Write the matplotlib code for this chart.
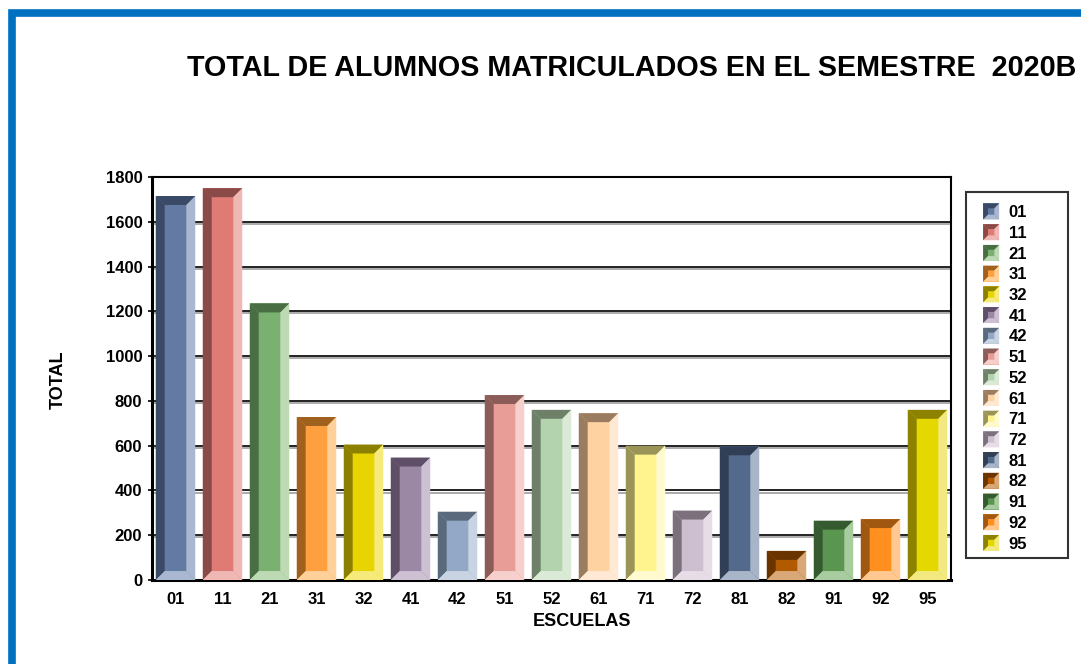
import matplotlib
matplotlib.use('Agg')
import matplotlib.pyplot as plt
import matplotlib.patheffects as pe
from matplotlib.patches import Polygon, Rectangle, Patch
from matplotlib.legend_handler import HandlerBase

plt.rcParams['font.family'] = ['Liberation Sans', 'DejaVu Sans']

# data
escuelas = ['01', '11', '21', '31', '32', '41', '42', '51', '52', '61',
            '71', '72', '81', '82', '91', '92', '95']
totales = [1715, 1750, 1235, 728, 605, 547, 305, 826, 760, 745,
           600, 310, 597, 130, 265, 272, 760]
yticks = [0, 200, 400, 600, 800, 1000, 1200, 1400, 1600, 1800]

# (front, dark bevel, light bevel) per school
front = ['#637AA2', '#E07A74', '#7AB070', '#FFA040', '#E8D400', '#9B88A4',
         '#93A8C6', '#E89E96', '#B3D3AE', '#FFD2A2', '#FFF48E', '#CEBFD0',
         '#536A8C', '#B25A00', '#5A9650', '#FF9020', '#E4D800']
dark = ['#3A4A66', '#8A4A48', '#4A6E44', '#A0601E', '#8C8000', '#5E4E68',
        '#5A6A7C', '#8C5C58', '#6E8068', '#9A7C60', '#9A9458', '#7C707C',
        '#303E56', '#6A3400', '#365A30', '#A05810', '#8C8200']
light = ['#A9B8D0', '#F0B8B5', '#BDDAB5', '#FFD09A', '#F5EA7A', '#CCC0D2',
         '#C8D4E2', '#F5D0CC', '#DAEAD6', '#FFE8D4', '#FFFAD0', '#E6DDE6',
         '#A8B4C8', '#D8A878', '#A8CCA0', '#FFC890', '#F2EA80']

BAR_W = 0.84
BEV_X = 0.19
BEV_Y = 40
W, H = 1081, 664


def bevel_polys(x0, x1, y0, y1, bx, by):
    xi0, xi1, yi0, yi1 = x0 + bx, x1 - bx, y0 + by, y1 - by
    left = [(x0, y0), (x0, y1), (xi0, yi1), (xi0, yi0)]
    top = [(x0, y1), (x1, y1), (xi1, yi1), (xi0, yi1)]
    right = [(x1, y1), (x1, y0), (xi1, yi0), (xi1, yi1)]
    bottom = [(x0, y0), (x1, y0), (xi1, yi0), (xi0, yi0)]
    return left, top, right, bottom


class BevelHandler(HandlerBase):
    def create_artists(self, legend, orig_handle, xdescent, ydescent,
                       width, height, fontsize, trans):
        f = orig_handle.get_facecolor()
        d = orig_handle.get_edgecolor()
        l = orig_handle.light
        s = height
        x0 = -xdescent + (width - s) / 2
        left, top, right, bottom = bevel_polys(x0, x0 + s, -ydescent, -ydescent + s,
                                               s * 0.3, s * 0.3)
        arts = [Rectangle((x0, -ydescent), s, s, facecolor=f, edgecolor='none')]
        for pts, c in ((left, d), (top, d), (right, l), (bottom, l)):
            arts.append(Polygon(pts, closed=True, facecolor=c, edgecolor='none'))
        for a in arts:
            a.set_transform(trans)
        return arts


fig = plt.figure(figsize=(W / 100, H / 100), dpi=100)
ax = fig.add_axes([152 / W, 1 - 580 / H, (951 - 152) / W, (580 - 177) / H])

xs = list(range(len(escuelas)))
ax.bar(xs, totales, width=BAR_W, color=front, zorder=3)
for x, h, d, l in zip(xs, totales, dark, light):
    left, top, right, bottom = bevel_polys(x - BAR_W / 2, x + BAR_W / 2, 0, h,
                                           BEV_X, BEV_Y)
    for pts, c in ((left, d), (top, d), (right, l), (bottom, l)):
        ax.add_patch(Polygon(pts, closed=True, facecolor=c, edgecolor='none', zorder=4))

for yv in yticks[1:-1]:
    ax.axhline(yv, color='#222222', lw=1.4, zorder=1,
               path_effects=[pe.SimpleLineShadow(offset=(0, -1.5), shadow_color='#888888', alpha=0.7),
                             pe.Normal()])

ax.set_xlim(-0.5, len(escuelas) - 0.5)
ax.set_ylim(0, 1800)
ax.set_yticks(yticks)
ax.set_xticks(xs)
ax.set_xticklabels(escuelas)
ax.tick_params(axis='both', labelsize=12, length=3, width=1.2, colors='black', pad=4)
ax.tick_params(axis='x', length=0, pad=9)
for lab in ax.get_xticklabels() + ax.get_yticklabels():
    lab.set_fontweight('bold')
for side in ['left', 'bottom']:
    ax.spines[side].set_linewidth(2.2)
for side in ['top', 'right']:
    ax.spines[side].set_linewidth(1.5)

fig.text(632 / W, 1 - 68 / H, 'TOTAL DE ALUMNOS MATRICULADOS EN EL SEMESTRE  2020B',
         ha='center', va='center', fontsize=20.7, fontweight='bold')
fig.text(58 / W, 1 - 380 / H, 'TOTAL', rotation=90, ha='center', va='center',
         fontsize=13, fontweight='bold')
fig.text(582 / W, 1 - 621 / H, 'ESCUELAS', ha='center', va='center',
         fontsize=13, fontweight='bold')

handles = []
for f, d, l in zip(front, dark, light):
    p = Patch(facecolor=f, edgecolor=d)
    p.light = l
    handles.append(p)
leg = fig.legend(handles, escuelas, loc='upper left',
                 bbox_to_anchor=(982 / W, 1 - 203.5 / H),
                 handler_map={Patch: BevelHandler()}, fontsize=12,
                 frameon=False, labelspacing=0.243, handlelength=1.1,
                 handleheight=1.1, handletextpad=0.5, borderpad=0,
                 borderaxespad=0)
for t in leg.get_texts():
    t.set_fontweight('bold')

# legend box
fig.patches.append(Rectangle((966 / W, 1 - 558 / H), 102 / W, 366 / H,
                             transform=fig.transFigure, fill=False,
                             edgecolor='#333333', lw=1.5, figure=fig))

# blue frame around the picture
fig.patches.append(Rectangle((11.5 / W, -0.2), 1.2, 1.2 - 13.5 / H, transform=fig.transFigure,
                             fill=False, edgecolor='#0070C0', lw=5.5, figure=fig))

fig.savefig('out.png', dpi=100)
